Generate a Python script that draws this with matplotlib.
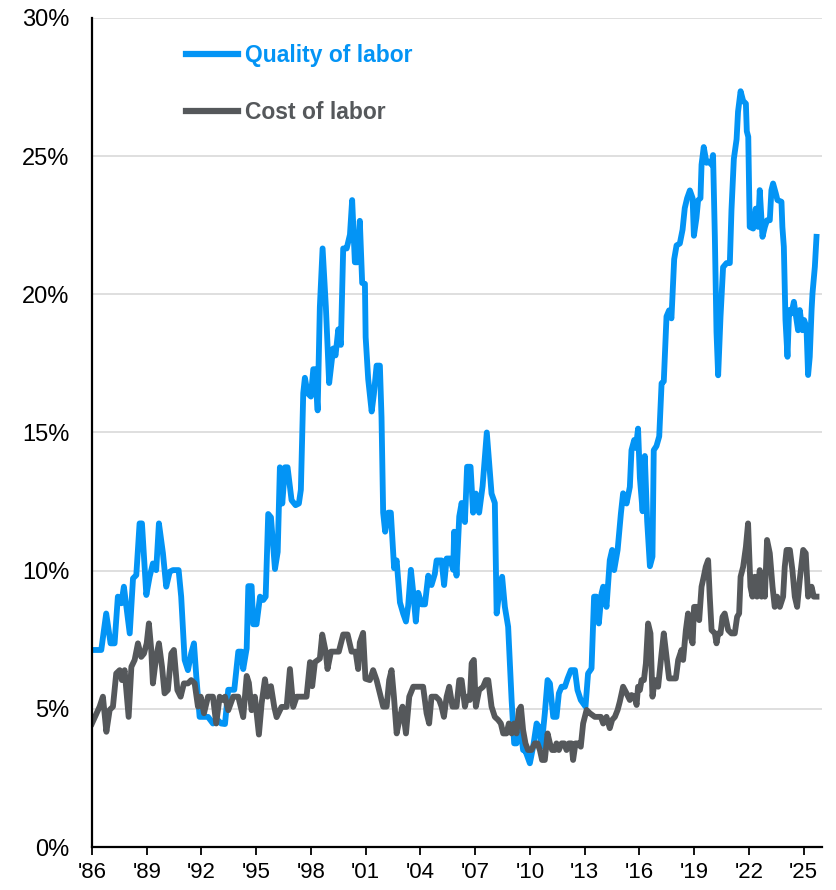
import matplotlib
matplotlib.use("Agg")
import matplotlib.pyplot as plt
from matplotlib.ticker import FuncFormatter

plt.rcParams['font.family'] = ['Liberation Sans', 'DejaVu Sans']

# Quality of labor (%), decimal years
quality_years = [
    1986.05, 1986.51, 1986.78, 1987.02, 1987.24, 1987.42, 1987.61, 1987.75, 1988.07, 1988.25,
    1988.43, 1988.61, 1988.74, 1988.98, 1989.16, 1989.34, 1989.52, 1989.67, 1989.89, 1990.07,
    1990.26, 1990.44, 1990.75, 1990.89, 1991.08, 1991.26, 1991.44, 1991.59, 1991.72, 1991.90,
    1992.36, 1992.63, 1992.81, 1993.08, 1993.29, 1993.47, 1993.80, 1994.02, 1994.20, 1994.29,
    1994.48, 1994.57, 1994.75, 1994.84, 1995.02, 1995.21, 1995.39, 1995.52, 1995.66, 1995.81,
    1996.03, 1996.18, 1996.30, 1996.43, 1996.58, 1996.72, 1996.94, 1997.16, 1997.34, 1997.45,
    1997.58, 1997.67, 1997.82, 1998.00, 1998.13, 1998.22, 1998.37, 1998.49, 1998.64, 1998.82,
    1999.00, 1999.22, 1999.35, 1999.50, 1999.64, 1999.77, 1999.96, 2000.14, 2000.26, 2000.41,
    2000.56, 2000.68, 2000.81, 2000.96, 2001.00, 2001.14, 2001.33, 2001.45, 2001.60, 2001.78,
    2001.87, 2001.96, 2002.07, 2002.24, 2002.38, 2002.56, 2002.70, 2002.88, 2003.06, 2003.21,
    2003.33, 2003.48, 2003.61, 2003.75, 2003.88, 2004.07, 2004.25, 2004.43, 2004.61, 2004.79,
    2004.89, 2005.16, 2005.30, 2005.44, 2005.62, 2005.80, 2005.85, 2005.98, 2006.13, 2006.26,
    2006.44, 2006.56, 2006.75, 2006.89, 2007.04, 2007.22, 2007.41, 2007.64, 2007.90, 2008.08,
    2008.18, 2008.36, 2008.48, 2008.63, 2008.81, 2009.00, 2009.14, 2009.27, 2009.45, 2009.63,
    2009.76, 2010.00, 2010.18, 2010.37, 2010.49, 2010.64, 2010.82, 2010.97, 2011.10, 2011.28,
    2011.46, 2011.59, 2011.74, 2011.92, 2012.07, 2012.25, 2012.47, 2012.61, 2012.79, 2013.05,
    2013.19, 2013.38, 2013.52, 2013.65, 2013.78, 2013.93, 2014.02, 2014.20, 2014.38, 2014.51,
    2014.62, 2014.81, 2014.99, 2015.11, 2015.30, 2015.48, 2015.57, 2015.72, 2015.81, 2015.93,
    2016.03, 2016.18, 2016.30, 2016.43, 2016.58, 2016.72, 2016.79, 2016.94, 2017.09, 2017.22,
    2017.34, 2017.49, 2017.63, 2017.76, 2017.91, 2018.04, 2018.22, 2018.37, 2018.49, 2018.62,
    2018.77, 2018.92, 2018.99, 2019.13, 2019.22, 2019.35, 2019.41, 2019.53, 2019.68, 2019.82,
    2019.96, 2020.04, 2020.14, 2020.23, 2020.32, 2020.45, 2020.59, 2020.78, 2020.96, 2021.05,
    2021.18, 2021.33, 2021.41, 2021.55, 2021.69, 2021.84, 2021.89, 2021.97, 2022.05, 2022.24,
    2022.38, 2022.51, 2022.60, 2022.75, 2022.88, 2023.00, 2023.15, 2023.24, 2023.33, 2023.48,
    2023.57, 2023.79, 2023.84, 2023.92, 2024.01, 2024.12, 2024.21, 2024.34, 2024.47, 2024.58,
    2024.70, 2024.79, 2024.94, 2025.03, 2025.16, 2025.25, 2025.34, 2025.44, 2025.49, 2025.62,
    2025.71,
]
quality_values = [
    7.13, 7.13, 8.45, 7.37, 7.37, 9.06, 8.82, 9.42, 7.73, 9.72,
    9.84, 11.71, 11.71, 9.12, 9.78, 10.26, 10.02, 11.71, 10.63, 9.42,
    9.96, 10.02, 10.02, 9.06, 6.77, 6.40, 7.01, 7.37, 6.16, 4.71,
    4.71, 4.47, 4.65, 4.47, 4.45, 5.69, 5.69, 7.07, 7.07, 6.44,
    7.19, 9.44, 9.44, 8.06, 8.06, 9.06, 8.94, 9.06, 12.05, 11.93,
    10.06, 10.68, 13.74, 12.43, 13.74, 13.74, 12.55, 12.37, 12.43, 12.93,
    16.42, 16.98, 16.42, 16.30, 17.29, 17.29, 15.80, 19.54, 21.66, 19.54,
    16.79, 18.04, 17.79, 18.73, 18.17, 21.66, 21.66, 22.16, 23.41, 21.16,
    21.16, 22.66, 20.41, 20.38, 18.45, 16.93, 15.76, 16.38, 17.42, 17.42,
    15.55, 12.10, 11.41, 12.10, 12.10, 10.09, 10.37, 8.85, 8.44, 8.16,
    8.72, 10.03, 9.20, 8.16, 9.20, 8.78, 8.78, 9.82, 9.48, 9.88,
    10.37, 10.37, 9.48, 10.44, 10.44, 10.03, 11.41, 9.82, 11.96, 12.45,
    11.76, 13.76, 13.76, 12.10, 12.79, 12.10, 13.06, 15.00, 12.79, 12.45,
    8.45, 9.42, 9.78, 8.69, 7.97, 5.32, 3.75, 3.75, 4.47, 3.51,
    3.47, 3.03, 3.63, 4.47, 4.35, 3.63, 4.84, 6.04, 5.92, 4.71,
    4.71, 5.56, 5.80, 5.80, 6.10, 6.40, 6.40, 5.68, 5.32, 5.08,
    6.28, 6.46, 9.06, 9.06, 8.09, 9.18, 9.42, 8.69, 10.38, 10.75,
    10.02, 10.75, 12.07, 12.80, 12.43, 13.03, 14.36, 14.73, 14.44, 15.14,
    13.36, 12.15, 14.15, 11.79, 10.16, 10.51, 14.36, 14.51, 14.86, 16.78,
    16.85, 19.20, 19.42, 19.13, 21.27, 21.77, 21.84, 22.34, 23.12, 23.48,
    23.76, 23.48, 22.12, 22.76, 23.40, 23.48, 24.69, 25.33, 24.76, 24.80,
    24.69, 25.04, 22.05, 18.63, 17.07, 19.20, 20.98, 21.13, 21.13, 23.05,
    24.90, 25.61, 26.61, 27.35, 27.00, 26.90, 25.90, 25.70, 22.44, 22.38,
    23.10, 22.44, 23.77, 22.08, 22.44, 22.68, 22.68, 23.77, 24.01, 23.65,
    23.41, 23.35, 22.44, 21.72, 19.07, 17.74, 19.43, 19.31, 19.73, 19.25,
    18.70, 19.43, 18.70, 19.07, 18.82, 17.08, 17.74, 19.43, 20.03, 21.00,
    22.08,
]

# Cost of labor (%)
cost_years = [
    1986.00, 1986.42, 1986.60, 1986.79, 1986.97, 1987.15, 1987.33, 1987.52, 1987.64, 1987.79,
    1988.01, 1988.16, 1988.34, 1988.52, 1988.70, 1988.85, 1989.00, 1989.12, 1989.25, 1989.34,
    1989.52, 1989.67, 1989.84, 1989.98, 1990.16, 1990.35, 1990.49, 1990.68, 1990.86, 1991.04,
    1991.26, 1991.44, 1991.63, 1991.81, 1991.96, 1992.14, 1992.36, 1992.63, 1992.81, 1993.00,
    1993.18, 1993.29, 1993.47, 1993.74, 1994.02, 1994.29, 1994.48, 1994.60, 1994.75, 1994.93,
    1995.15, 1995.30, 1995.48, 1995.62, 1995.81, 1995.99, 1996.12, 1996.39, 1996.67, 1996.85,
    1997.03, 1997.22, 1997.49, 1997.76, 1997.95, 1998.07, 1998.22, 1998.49, 1998.62, 1998.81,
    1998.91, 1999.10, 1999.32, 1999.53, 1999.77, 2000.01, 2000.23, 2000.45, 2000.59, 2000.68,
    2000.86, 2000.99, 2001.23, 2001.41, 2001.60, 2001.78, 2001.96, 2002.15, 2002.29, 2002.42,
    2002.55, 2002.70, 2002.88, 2003.02, 2003.21, 2003.39, 2003.61, 2003.88, 2004.15, 2004.34,
    2004.48, 2004.61, 2004.85, 2005.03, 2005.16, 2005.29, 2005.44, 2005.58, 2005.76, 2005.98,
    2006.13, 2006.26, 2006.44, 2006.56, 2006.71, 2006.81, 2006.93, 2007.04, 2007.22, 2007.44,
    2007.59, 2007.72, 2007.90, 2008.08, 2008.26, 2008.41, 2008.54, 2008.72, 2008.85, 2009.00,
    2009.14, 2009.27, 2009.40, 2009.51, 2009.63, 2009.76, 2009.90, 2010.09, 2010.27, 2010.42,
    2010.55, 2010.67, 2010.82, 2010.97, 2011.10, 2011.22, 2011.37, 2011.46, 2011.59, 2011.74,
    2011.88, 2012.01, 2012.14, 2012.28, 2012.37, 2012.50, 2012.65, 2012.79, 2012.92, 2013.11,
    2013.29, 2013.56, 2013.74, 2013.89, 2014.02, 2014.20, 2014.38, 2014.51, 2014.66, 2014.81,
    2014.93, 2015.11, 2015.30, 2015.48, 2015.57, 2015.75, 2015.85, 2015.93, 2016.03, 2016.12,
    2016.25, 2016.36, 2016.48, 2016.61, 2016.72, 2016.85, 2017.03, 2017.22, 2017.34, 2017.49,
    2017.63, 2017.82, 2018.00, 2018.13, 2018.31, 2018.40, 2018.55, 2018.67, 2018.81, 2018.92,
    2019.00, 2019.19, 2019.28, 2019.41, 2019.53, 2019.64, 2019.77, 2019.86, 2019.96, 2020.14,
    2020.23, 2020.32, 2020.45, 2020.56, 2020.68, 2020.87, 2021.05, 2021.23, 2021.36, 2021.47,
    2021.55, 2021.69, 2021.84, 2021.96, 2022.09, 2022.20, 2022.33, 2022.45, 2022.60, 2022.70,
    2022.78, 2022.88, 2023.00, 2023.15, 2023.30, 2023.42, 2023.55, 2023.70, 2023.88, 2023.97,
    2024.07, 2024.25, 2024.39, 2024.52, 2024.65, 2024.79, 2024.98, 2025.12, 2025.25, 2025.44,
    2025.56, 2025.71,
]
cost_values = [
    4.47, 5.08, 5.44, 4.17, 4.96, 5.08, 6.28, 6.40, 6.04, 6.40,
    4.71, 6.52, 6.77, 7.37, 6.88, 7.00, 7.37, 8.09, 7.13, 5.92,
    6.88, 7.37, 6.52, 5.56, 5.68, 7.00, 7.13, 5.68, 5.44, 5.92,
    5.92, 6.04, 5.92, 5.08, 5.44, 4.84, 5.44, 5.44, 4.47, 5.44,
    5.32, 5.44, 4.95, 5.44, 5.44, 4.70, 6.19, 5.94, 4.95, 5.44,
    4.07, 5.20, 6.07, 5.44, 5.82, 5.07, 4.70, 5.07, 5.07, 6.44,
    5.07, 5.44, 5.44, 5.44, 6.69, 5.82, 6.69, 6.82, 7.69, 7.07,
    6.44, 7.07, 7.07, 7.07, 7.69, 7.69, 7.07, 7.07, 6.44, 7.40,
    7.75, 6.09, 6.04, 6.40, 6.04, 5.56, 5.08, 5.08, 6.04, 6.40,
    5.44, 4.11, 4.71, 5.08, 4.11, 5.44, 5.80, 5.80, 5.80, 4.84,
    4.47, 5.44, 5.44, 5.32, 5.08, 4.71, 5.44, 5.80, 5.08, 5.08,
    6.04, 6.04, 5.08, 5.44, 5.32, 6.65, 6.77, 5.08, 5.68, 5.80,
    6.04, 6.04, 5.08, 4.71, 4.60, 4.47, 4.11, 4.11, 4.47, 4.11,
    4.47, 4.11, 4.96, 5.08, 4.23, 3.75, 3.51, 3.51, 3.75, 3.75,
    3.51, 3.15, 3.15, 4.11, 3.75, 3.51, 3.51, 3.75, 3.51, 3.75,
    3.75, 3.51, 3.75, 3.75, 3.15, 3.75, 3.75, 3.63, 4.47, 4.96,
    4.84, 4.71, 4.71, 4.71, 4.47, 4.71, 4.30, 4.60, 4.71, 4.96,
    5.26, 5.80, 5.56, 5.32, 5.50, 5.44, 5.14, 5.80, 5.68, 6.04,
    6.04, 6.65, 8.09, 7.73, 5.44, 6.04, 5.80, 7.01, 7.73, 6.88,
    6.10, 6.10, 6.10, 6.77, 7.13, 6.77, 7.85, 8.45, 7.61, 7.37,
    8.69, 8.69, 8.21, 9.42, 9.78, 10.14, 10.38, 9.06, 7.85, 7.73,
    7.37, 7.73, 7.73, 8.33, 8.45, 7.85, 7.73, 7.73, 8.33, 8.45,
    9.78, 10.14, 10.86, 11.71, 9.42, 9.06, 9.78, 9.06, 10.02, 9.06,
    9.66, 9.06, 11.11, 10.63, 9.42, 8.69, 9.06, 8.69, 9.06, 10.14,
    10.75, 10.75, 10.02, 9.06, 8.69, 9.66, 10.75, 10.63, 9.06, 9.42,
    9.06, 9.06,
]

tick_years = list(range(1986, 2026, 3))
tick_labels = ["'" + str(y)[2:] for y in tick_years]

blue = '#0394f5'
grey = '#55585b'

fig = plt.figure(figsize=(8.36, 8.9), dpi=100)
ax = fig.add_axes([0.110, 0.0483, 0.873, 0.9315])

ax.plot(quality_years, quality_values, color=blue, lw=4.2, label='Quality of labor',
        solid_joinstyle='round', zorder=3)
ax.plot(cost_years, cost_values, color=grey, lw=4.2, label='Cost of labor',
        solid_joinstyle='round', zorder=4)

ax.set_xlim(1986, 2026)
ax.set_ylim(0, 30)
ax.set_yticks(range(0, 31, 5))
ax.yaxis.set_major_formatter(FuncFormatter(lambda v, p: f'{v:.0f}%'))
ax.set_xticks(tick_years)
ax.set_xticklabels(tick_labels)

ax.grid(axis='y', color='#d9d9d9', lw=1.2)
ax.set_axisbelow(True)
for side in ['top', 'right']:
    ax.spines[side].set_visible(False)
for side in ['left', 'bottom']:
    ax.spines[side].set_color('black')
    ax.spines[side].set_linewidth(1.6)
    ax.spines[side].set_zorder(5)

ax.tick_params(axis='y', length=0, pad=16, labelsize=17)
ax.tick_params(axis='x', direction='out', length=6, width=1.3, pad=5, labelsize=16)

leg = ax.legend(loc='upper left', bbox_to_anchor=(0.100, 0.993), frameon=False,
                handlelength=2.3, handletextpad=0.3, labelspacing=1.45,
                prop={'size': 16.5, 'weight': 'bold'}, labelcolor='linecolor')
for line in leg.get_lines():
    line.set_linewidth(4.5)

fig.savefig('out.png', dpi=100)
